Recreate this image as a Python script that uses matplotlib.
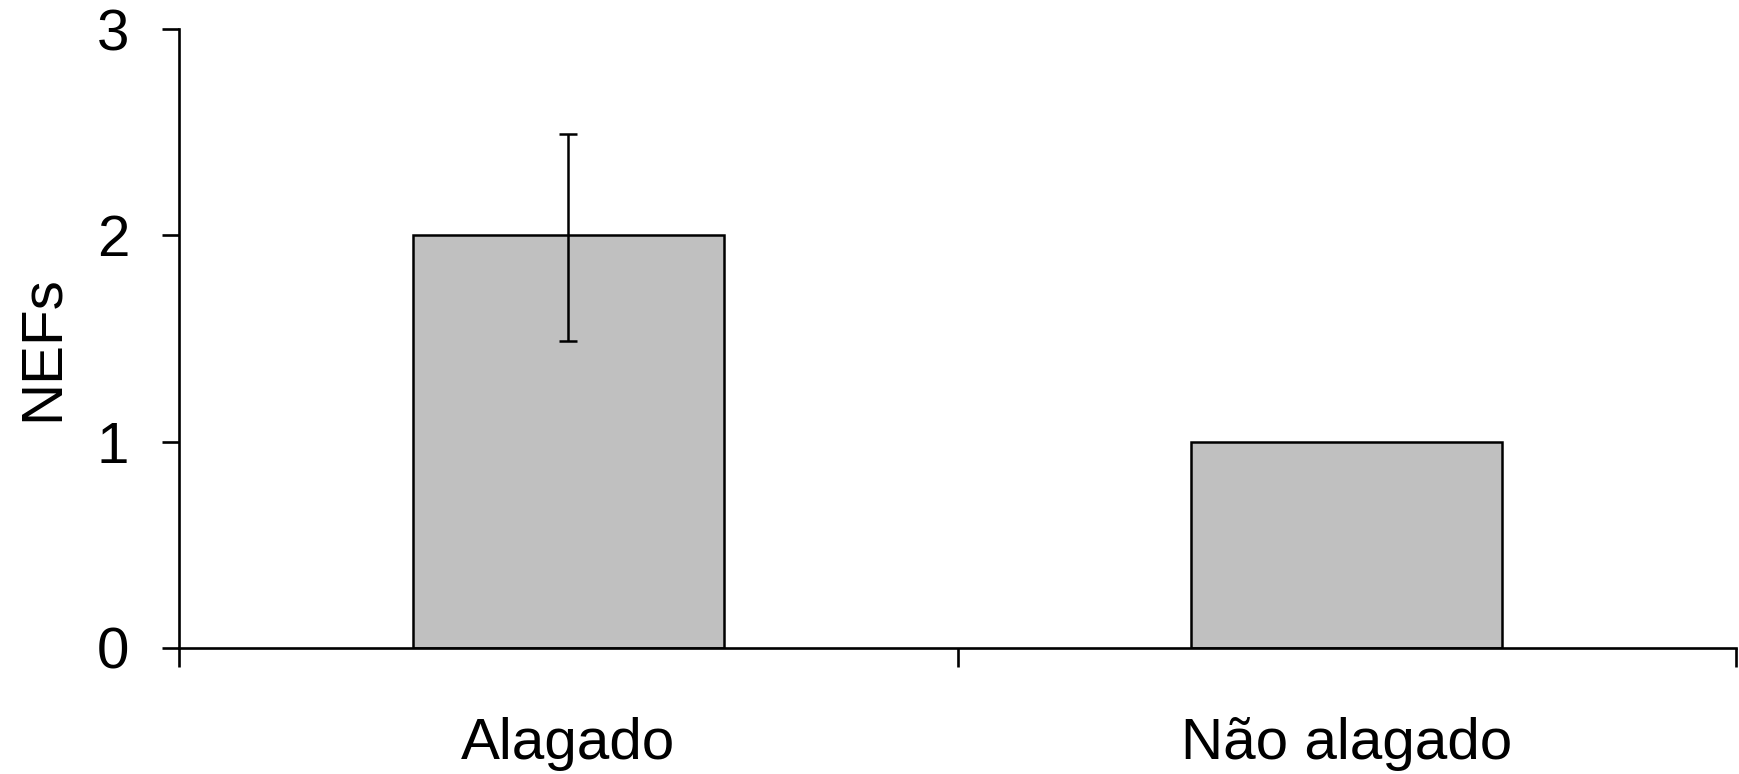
import matplotlib.pyplot as plt

plt.rcParams["font.family"] = ["Liberation Sans", "DejaVu Sans"]

# mean NEFs per site type, with error (lower, upper)
categories = ["Alagado", "Não alagado"]
means = [2.0, 1.0]
err_low = [0.51, 0.0]
err_high = [0.49, 0.0]
yticks = [0, 1, 2, 3]

fig = plt.figure(figsize=(17.4, 7.74), dpi=100)
ax = fig.add_axes([0.1029, 0.1628, 0.8948, 0.7997])

positions = [i + 0.5 for i in range(len(categories))]
ax.bar(positions, means, width=0.40, color="#c0c0c0", edgecolor="black", linewidth=1.8)

# error bar only for the flooded site
ax.errorbar(positions[0], means[0], yerr=[[err_low[0]], [err_high[0]]], fmt="none",
            ecolor="black", elinewidth=1.8, capsize=6.5, capthick=1.8)

ax.set_xlim(0, len(categories))
ax.set_ylim(0, 3)

# axes styling
for side in ["top", "right"]:
    ax.spines[side].set_visible(False)
for side in ["left", "bottom"]:
    ax.spines[side].set_linewidth(1.9)

ax.set_yticks(yticks)
ax.set_yticklabels([str(t) for t in yticks])
ax.tick_params(axis="y", direction="out", length=12, width=1.9, pad=24, labelsize=42)

# category separators as major ticks, labels at the bar centres
ax.set_xticks(range(len(categories) + 1))
ax.set_xticklabels([])
ax.tick_params(axis="x", which="major", direction="out", length=14, width=1.9)
ax.set_xticks(positions, minor=True)
ax.set_xticklabels(categories, minor=True)
ax.tick_params(axis="x", which="minor", length=0, pad=50, labelsize=42)

ax.set_ylabel("NEFs", fontsize=42)
ax.yaxis.set_label_coords(-0.0703, 0.485)

fig.savefig("out.png", dpi=100)
